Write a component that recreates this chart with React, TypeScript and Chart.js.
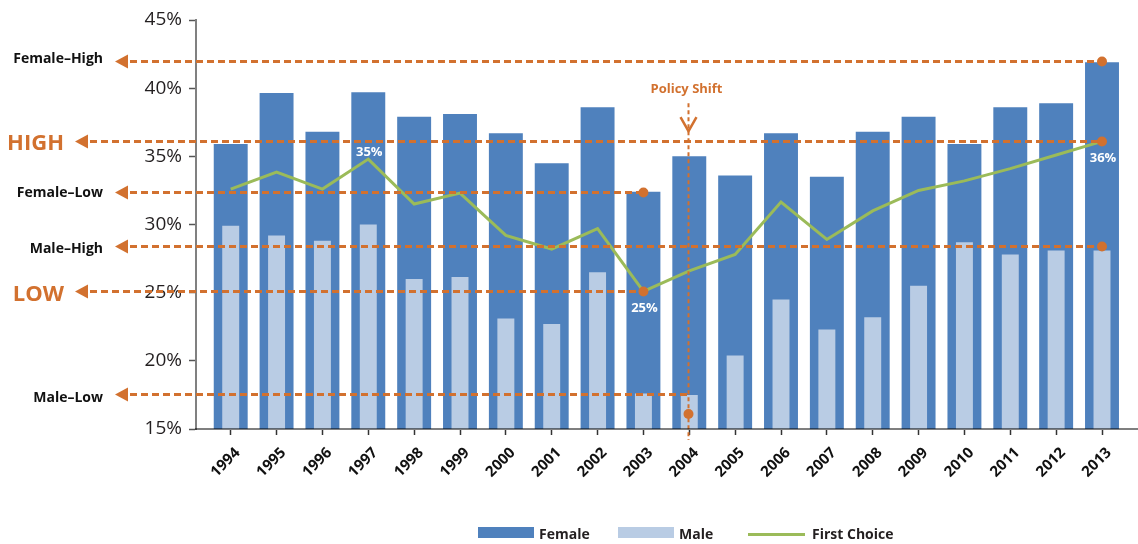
import { useEffect, useRef } from 'react';
import { Chart, registerables } from 'chart.js';

Chart.register(...registerables);

// ---------- data ----------
const years = [1994, 1995, 1996, 1997, 1998, 1999, 2000, 2001, 2002, 2003, 2004, 2005, 2006, 2007, 2008, 2009, 2010, 2011, 2012, 2013];
const female = [35.9, 39.65, 36.8, 39.7, 37.9, 38.1, 36.7, 34.5, 38.6, 32.4, 35.0, 33.6, 36.7, 33.5, 36.8, 37.9, 35.9, 38.6, 38.9, 41.9];
const male = [29.9, 29.2, 28.8, 30.0, 26.0, 26.15, 23.1, 22.7, 26.5, 17.6, 17.5, 20.4, 24.5, 22.3, 23.2, 25.5, 28.7, 27.8, 28.1, 28.1];
const firstChoice = [32.6, 33.85, 32.6, 34.8, 31.5, 32.3, 29.2, 28.2, 29.7, 25.1, 26.6, 27.8, 31.65, 28.9, 31.0, 32.5, 33.2, 34.1, 35.1, 36.1];
const yTicks = [15, 20, 25, 30, 35, 40, 45];

// reference lines
const refLabels = ['Female–High', 'HIGH', 'Female–Low', 'Male–High', 'LOW', 'Male–Low'];
const refValues = [42.0, 36.1, 32.4, 28.4, 25.1, 17.6];
const refEndYears = [2013, 2013, 2003, 2013, 2003, 2004];
const refMajor = [false, true, false, false, true, false];
const refDots = [true, true, true, true, true, false];

// policy marker
const policyYear = 2004;
const policyLabel = 'Policy Shift';
const policyTopValue = 38.9;
const policyDotValue = 16.1;

// value callouts on the First Choice line
const calloutYears = [1997, 2003, 2013];
const calloutAbove = [true, false, false];

// ---------- styles ----------
const FONT = '"Open Sans", "Noto Sans", sans-serif';
const FEMALE = '#4f81bd';
const MALE = '#b9cce4';
const GREEN = '#9bbb59';
const ORANGE = '#d2712f';
const TEXT = '#231f20';
// baseline shift of each reference label relative to its line (layout only)
const REF_LABEL_BASELINE = [1.5, 8, 4, 6, 9, 7];

const annotPlugin = {
  id: 'annot',
  afterDatasetsDraw(chart: any) {
    const { ctx, chartArea, scales } = chart;
    const x = scales.x;
    const y = scales.y;
    ctx.save();
    // reference lines
    refLabels.forEach((label, i) => {
      const py = Math.round(y.getPixelForValue(refValues[i])) + 0.5;
      const tip = refMajor[i] ? chartArea.left - 121 : chartArea.left - 81;
      const ex = x.getPixelForValue(refEndYears[i]);
      ctx.fillStyle = ORANGE;
      ctx.beginPath();
      ctx.moveTo(tip, py);
      ctx.lineTo(tip + 13, py - 7);
      ctx.lineTo(tip + 13, py + 7);
      ctx.closePath();
      ctx.fill();
      ctx.strokeStyle = ORANGE;
      ctx.lineWidth = 3;
      ctx.setLineDash([7, 4]);
      ctx.beginPath();
      ctx.moveTo(tip + 15, py);
      ctx.lineTo(ex, py);
      ctx.stroke();
      ctx.setLineDash([]);
      if (refDots[i]) {
        ctx.beginPath();
        ctx.arc(ex, py, 5, 0, Math.PI * 2);
        ctx.fill();
      }
      ctx.textAlign = 'right';
      ctx.textBaseline = 'alphabetic';
      if (refMajor[i]) {
        ctx.font = `bold 22px ${FONT}`;
        ctx.fillStyle = ORANGE;
        ctx.fillText(label, tip - 11, py + REF_LABEL_BASELINE[i]);
      } else {
        ctx.font = `bold 14px ${FONT}`;
        ctx.fillStyle = '#111';
        ctx.fillText(label, tip - 12, py + REF_LABEL_BASELINE[i]);
      }
    });

    // policy shift
    const px = Math.round(x.getPixelForValue(policyYear)) - 0.5;
    const top = y.getPixelForValue(policyTopValue);
    ctx.strokeStyle = ORANGE;
    ctx.lineWidth = 2;
    ctx.setLineDash([4, 3]);
    ctx.beginPath();
    ctx.moveTo(px, top);
    ctx.lineTo(px, chartArea.bottom + 11);
    ctx.stroke();
    ctx.setLineDash([]);
    ctx.lineWidth = 2.5;
    ctx.beginPath();
    ctx.moveTo(px - 8, top + 14);
    ctx.lineTo(px, top + 28);
    ctx.lineTo(px + 8, top + 14);
    ctx.stroke();
    ctx.fillStyle = ORANGE;
    ctx.font = `bold 13px ${FONT}`;
    ctx.textAlign = 'center';
    ctx.textBaseline = 'middle';
    ctx.fillText(policyLabel, px - 2, top - 14);
    ctx.beginPath();
    ctx.arc(px, y.getPixelForValue(policyDotValue), 5, 0, Math.PI * 2);
    ctx.fill();

    // callouts
    ctx.fillStyle = '#ffffff';
    ctx.font = `bold 13px ${FONT}`;
    calloutYears.forEach((yr, k) => {
      const i = years.indexOf(yr);
      const v = firstChoice[i];
      const cx = x.getPixelForValue(yr);
      const cy = y.getPixelForValue(v);
      ctx.fillText(`${Math.round(v)}%`, cx + 1, calloutAbove[k] ? cy - 7 : cy + 17);
    });
    ctx.restore();
  },
};

const legendPlugin = {
  id: 'customLegend',
  afterDraw(chart: any) {
    const { ctx } = chart;
    const order = ['Female', 'Male', 'First Choice'];
    const xs = [478, 618, 748];
    ctx.save();
    ctx.font = `bold 14px ${FONT}`;
    ctx.textAlign = 'left';
    ctx.textBaseline = 'alphabetic';
    order.forEach((name, k) => {
      const ds = chart.data.datasets.find((d: any) => d.label === name);
      if (!ds) return;
      const lx = xs[k];
      if (ds.type === 'line') {
        ctx.strokeStyle = ds.borderColor;
        ctx.lineWidth = 3;
        ctx.beginPath();
        ctx.moveTo(lx, 534.5);
        ctx.lineTo(lx + 57, 534.5);
        ctx.stroke();
        ctx.fillStyle = TEXT;
        ctx.fillText(name, lx + 64, 539);
      } else {
        ctx.fillStyle = ds.backgroundColor;
        ctx.fillRect(lx, 527, 56, 11);
        ctx.fillStyle = TEXT;
        ctx.fillText(name, lx + 61, 539);
      }
    });
    ctx.restore();
  },
};

export default function App() {
  const ref = useRef<HTMLCanvasElement>(null);
  useEffect(() => {
    document.body.style.margin = '0';
    Chart.defaults.font.family = FONT;
    const chart = new Chart(ref.current as HTMLCanvasElement, {
      type: 'bar',
      data: {
        datasets: [
          {
            type: 'line',
            label: 'First Choice',
            data: years.map((yr, i) => ({ x: yr, y: firstChoice[i] })),
            borderColor: GREEN,
            backgroundColor: GREEN,
            borderWidth: 3,
            pointRadius: 0,
            tension: 0,
            fill: false,
            order: 1,
          } as any,
          {
            type: 'bar',
            label: 'Male',
            data: years.map((yr, i) => ({ x: yr, y: male[i] })),
            backgroundColor: MALE,
            barPercentage: 0.37,
            categoryPercentage: 1,
            grouped: false,
            order: 2,
          } as any,
          {
            type: 'bar',
            label: 'Female',
            data: years.map((yr, i) => ({ x: yr, y: female[i] })),
            backgroundColor: FEMALE,
            barPercentage: 0.74,
            categoryPercentage: 1,
            grouped: false,
            order: 3,
          } as any,
        ],
      },
      options: {
        animation: false,
        responsive: false,
        devicePixelRatio: 1,
        layout: { padding: { top: 20, left: 0, right: 0, bottom: 0 } },
        plugins: { legend: { display: false }, tooltip: { enabled: false } },
        scales: {
          x: {
            type: 'linear',
            min: 1993.243,
            max: 2013.785,
            offset: false,
            grid: { offset: false, drawOnChartArea: false, drawTicks: true, tickLength: 6, tickColor: '#333', tickWidth: 1.5 },
            border: { display: true, color: 'rgba(0,0,0,0.5)', width: 2, z: 1 },
            afterBuildTicks: (s: any) => {
              s.ticks = years.map((v) => ({ value: v }));
            },
            afterFit: (s: any) => {
              s.height = 115;
            },
            ticks: {
              autoSkip: false,
              minRotation: 45,
              maxRotation: 45,
              padding: 9,
              labelOffset: 7,
              color: '#111',
              font: { family: FONT, size: 15, weight: 'bold' },
              callback: (v: any) => String(v),
            },
          } as any,
          y: {
            type: 'linear',
            min: 15,
            max: 45,
            beginAtZero: false,
            grid: { drawOnChartArea: false, drawTicks: true, tickLength: 7, tickColor: '#555', tickWidth: 1.5 },
            border: { display: true, color: '#808080', width: 2 },
            afterBuildTicks: (s: any) => {
              s.ticks = yTicks.map((v) => ({ value: v }));
            },
            afterFit: (s: any) => {
              s.width = 196;
            },
            ticks: {
              padding: 7,
              color: TEXT,
              font: { family: FONT, size: 19 },
              callback: (v: any) => `${v}%`,
            },
          } as any,
        },
      },
      plugins: [annotPlugin, legendPlugin],
    });
    return () => chart.destroy();
  }, []);
  return <canvas ref={ref} width={1138} height={544} style={{ display: 'block' }} />;
}
